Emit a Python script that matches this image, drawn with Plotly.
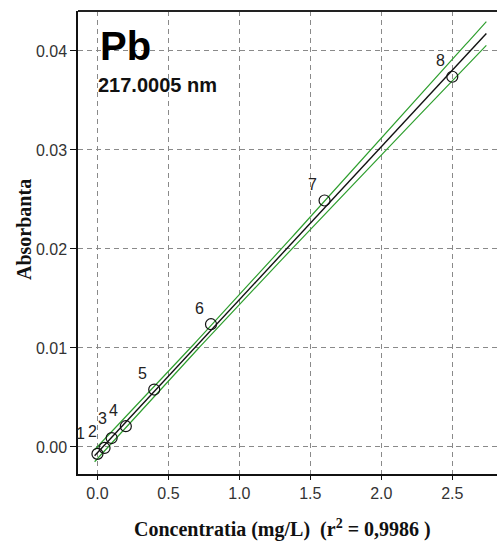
import numpy as np
import plotly.graph_objects as go

# Calibration standards for Pb
conc = [0.0, 0.05, 0.1, 0.2, 0.4, 0.8, 1.6, 2.5]          # mg/L
absorb = [-0.0007, -0.0001, 0.0009, 0.0021, 0.0058, 0.0124, 0.0249, 0.0374]
std_labels = ["1", "2", "3", "4", "5", "6", "7", "8"]

x_ticks = [0.0, 0.5, 1.0, 1.5, 2.0, 2.5]
y_ticks = [0.00, 0.01, 0.02, 0.03, 0.04]

element = "Pb"
wavelength = "217.0005 nm"
r2_text = "0,9986"

# Linear least-squares fit and its 95 % confidence band
x = np.array(conc)
y = np.array(absorb)
n = len(x)
slope, intercept = np.polyfit(x, y, 1)
resid = y - (slope * x + intercept)
s = np.sqrt((resid ** 2).sum() / (n - 2))
sxx = ((x - x.mean()) ** 2).sum()
T95_DF6 = 2.447

xf = np.linspace(-0.02, 2.74, 150)
yf = intercept + slope * xf
half = T95_DF6 * s * np.sqrt(1.0 / n + (xf - x.mean()) ** 2 / sxx)

GREEN = "#2f9f2f"
TICK_FONT = dict(family="Liberation Sans, Arial, sans-serif", size=16, color="#333333")
TITLE_FONT = dict(family="Liberation Serif, Times New Roman, serif", size=20, color="#111111")

fig = go.Figure()
fig.add_trace(go.Scatter(x=xf, y=yf + half, mode="lines",
                         line=dict(color=GREEN, width=1.2), hoverinfo="skip"))
fig.add_trace(go.Scatter(x=xf, y=yf - half, mode="lines",
                         line=dict(color=GREEN, width=1.2), hoverinfo="skip"))
fig.add_trace(go.Scatter(x=xf, y=yf, mode="lines",
                         line=dict(color="#111111", width=1.4), hoverinfo="skip"))
fig.add_trace(go.Scatter(x=conc, y=absorb, mode="markers",
                         marker=dict(symbol="circle-open", size=11,
                                     color="#111111", line=dict(width=1.2))))

# label offsets (pixels) relative to each standard's marker
label_shift = {"1": (-17, 20), "3": (-9, 20)}

annotations = []
for xi, yi, lab in zip(conc, absorb, std_labels):
    dx, dy = label_shift.get(lab, (-12, 16))
    annotations.append(dict(x=xi, y=yi, xref="x", yref="y", text=lab,
                            showarrow=False, xshift=dx, yshift=dy,
                            font=dict(family=TICK_FONT["family"], size=16, color="#222222")))

annotations += [
    dict(xref="paper", yref="paper", x=0.0477, y=(474 - 46) / 463,
         xanchor="left", yanchor="middle", text=f"<b>{element}</b>", showarrow=False,
         font=dict(family="Liberation Sans, Arial, sans-serif", size=40, color="#000000")),
    dict(xref="paper", yref="paper", x=0.043, y=(474 - 85) / 463,
         xanchor="left", yanchor="middle", text=f"<b>{wavelength}</b>", showarrow=False,
         font=dict(family="Liberation Sans, Arial, sans-serif", size=20, color="#111111")),
    dict(xref="paper", yref="paper", x=0, y=(474 - 230) / 463, xshift=-54,
         xanchor="center", yanchor="middle", textangle=-90,
         text="<b>Absorbanta</b>", showarrow=False, font=TITLE_FONT),
    dict(xref="paper", yref="paper", x=(282 - 78) / 419, y=0, yshift=-54,
         xanchor="center", yanchor="middle",
         text=f"<b>Concentratia (mg/L)  (r<sup>2</sup> = {r2_text} )</b>",
         showarrow=False, font=TITLE_FONT),
]

grid = dict(showgrid=True, gridcolor="#8a8a8a", gridwidth=1, griddash="5px,4px",
            zeroline=False, showline=True, linecolor="#111111", linewidth=1.5,
            ticks="outside", tickcolor="#111111", tickwidth=1, tickfont=TICK_FONT)

fig.update_layout(
    width=497, height=543, autosize=False,
    margin=dict(l=78, r=0, t=11, b=69),
    paper_bgcolor="white", plot_bgcolor="white",
    showlegend=False,
    annotations=annotations,
    xaxis=dict(range=[-0.137, 2.815], tickvals=x_ticks, tickformat=".1f",
               ticklen=4, **grid),
    yaxis=dict(range=[-0.00273, 0.04404], tickvals=y_ticks, tickformat=".2f",
               ticklen=6, **grid),
    shapes=[dict(type="line", xref="paper", yref="paper", x0=0, x1=1, y0=1, y1=1,
                 line=dict(color="#222222", width=2))],
)

fig.write_html("out.html")
